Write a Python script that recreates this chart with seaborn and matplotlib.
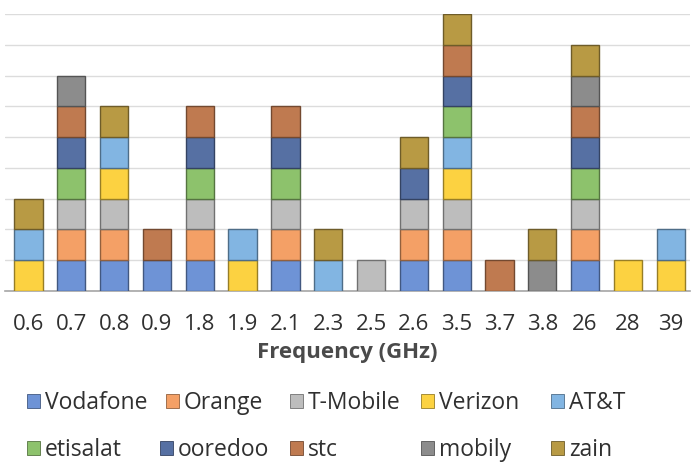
import numpy as np
import pandas as pd
import matplotlib
matplotlib.use("Agg")
import matplotlib.pyplot as plt
import matplotlib.colors as mcolors
import seaborn as sns

frequencies = ["0.6", "0.7", "0.8", "0.9", "1.8", "1.9", "2.1", "2.3", "2.5", "2.6",
               "3.5", "3.7", "3.8", "26", "28", "39"]
operators = ["Vodafone", "Orange", "T-Mobile", "Verizon", "AT&T",
             "etisalat", "ooredoo", "stc", "mobily", "zain"]

vodafone = [0, 1, 1, 1, 1, 0, 1, 0, 0, 1, 1, 0, 0, 1, 0, 0]
orange   = [0, 1, 1, 0, 1, 0, 1, 0, 0, 1, 1, 0, 0, 1, 0, 0]
tmobile  = [0, 1, 1, 0, 1, 0, 1, 0, 1, 1, 1, 0, 0, 1, 0, 0]
verizon  = [1, 0, 1, 0, 0, 1, 0, 0, 0, 0, 1, 0, 0, 0, 1, 1]
att      = [1, 0, 1, 0, 0, 1, 0, 1, 0, 0, 1, 0, 0, 0, 0, 1]
etisalat = [0, 1, 0, 0, 1, 0, 1, 0, 0, 0, 1, 0, 0, 1, 0, 0]
ooredoo  = [0, 1, 0, 0, 1, 0, 1, 0, 0, 1, 1, 0, 0, 1, 0, 0]
stc      = [0, 1, 0, 1, 1, 0, 1, 0, 0, 0, 1, 1, 0, 1, 0, 0]
mobily   = [0, 1, 0, 0, 0, 0, 0, 0, 0, 0, 0, 0, 1, 1, 0, 0]
zain     = [1, 0, 1, 0, 0, 0, 0, 1, 0, 1, 1, 0, 1, 1, 0, 0]

series = [vodafone, orange, tmobile, verizon, att, etisalat, ooredoo, stc, mobily, zain]
colors = ["#6E93D6", "#F4A066", "#BDBDBD", "#FCD241", "#82B5E2",
          "#8DC26C", "#5670A3", "#BF7A50", "#8C8C8C", "#B89A44"]

sns.set_theme(style="white")
plt.rcParams["font.family"] = ["Open Sans", "DejaVu Sans"]

fig = plt.figure(figsize=(6.94, 4.67), dpi=100)
ax = fig.add_axes([5 / 694, 1 - 291 / 467, 685 / 694, 277 / 467])

bottom = np.zeros(len(frequencies))
handles = []
for name, vals, col in zip(operators, series, colors):
    vals = np.array(vals, dtype=float)
    edge = tuple(np.array(mcolors.to_rgb(col)) * 0.6)
    df = pd.DataFrame({"freq": frequencies, "val": vals})
    n_before = len(ax.patches)
    sns.barplot(data=df, x="freq", y="val", order=frequencies, bottom=bottom,
                color=col, edgecolor=edge, linewidth=1.0, width=0.66,
                saturation=1, errorbar=None, ax=ax, zorder=3)
    for p in ax.patches[n_before:]:
        if p.get_height() == 0:
            p.set_visible(False)
    handles.append(plt.Rectangle((0, 0), 1, 1, facecolor=col, edgecolor=edge, linewidth=0.6))
    bottom = bottom + vals

ax.set_ylim(0, 9)
ax.set_xlim(-0.55, len(frequencies) - 0.55)
ax.set_yticks(range(0, 10))
ax.yaxis.grid(True, color="#DCDCDC", linewidth=1.0, zorder=0)
ax.set_axisbelow(True)
ax.tick_params(axis="y", left=False, labelleft=False)
ax.tick_params(axis="x", bottom=False, labelsize=16, colors="#303030", pad=10.5)
for s in ["top", "right", "left"]:
    ax.spines[s].set_visible(False)
ax.spines["bottom"].set_color("#A6A6A6")
ax.spines["bottom"].set_linewidth(1.2)
ax.set_ylabel("")
ax.set_xlabel("Frequency (GHz)", fontsize=16, fontweight="bold", color="#4A4A4A", labelpad=5)

# legend entry positions (marker left x, row centre y) in pixels
entry_x = [27, 166, 290, 421, 551, 27, 160, 290, 421, 551]
entry_y = [403, 403, 403, 403, 403, 450, 450, 450, 450, 450]
for h, lab, ex, ey in zip(handles, operators, entry_x, entry_y):
    leg = fig.legend([h], [lab], loc="center left",
                     bbox_to_anchor=(ex / 694, 1 - ey / 467),
                     frameon=False, fontsize=16.5, handlelength=0.58, handleheight=0.58,
                     handletextpad=0.2, borderpad=0, borderaxespad=0)
    for t in leg.get_texts():
        t.set_color("#303030")

fig.savefig("out.png", dpi=100)
